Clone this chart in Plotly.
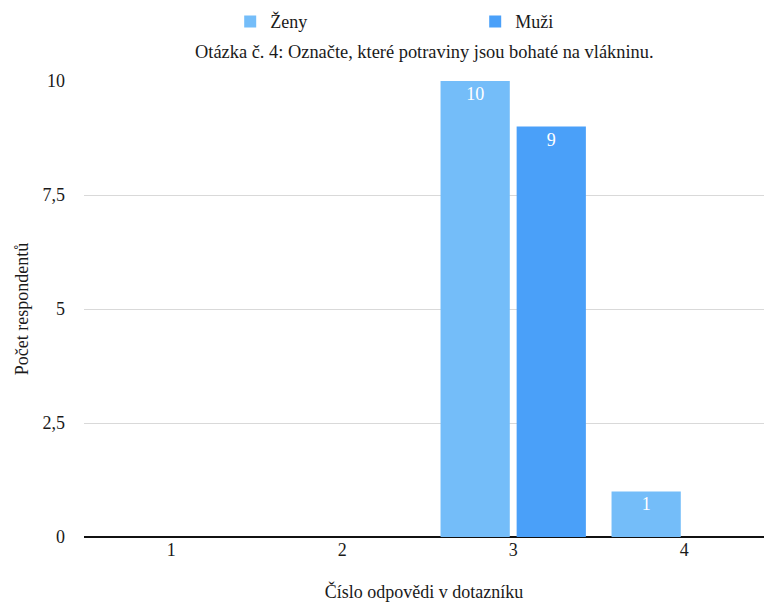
import plotly.graph_objects as go

categories = ["1", "2", "3", "4"]
zeny = [0, 0, 10, 1]
muzi = [0, 0, 9, 0]
y_tick_vals = [0, 2.5, 5, 7.5, 10]
y_tick_text = ["0", "2,5", "5", "7,5", "10"]

FONT = "Liberation Serif, Times New Roman, serif"
LIGHT = "#74bdf9"
DARK = "#4aa0f9"
TXT = "#1a1a1a"


def heights(vals):
    # zero counts are left undrawn so no sliver shows on the axis
    return [v if v else None for v in vals]


def labels(vals):
    return [str(v) if v else "" for v in vals]


fig = go.Figure()
for name, vals, col in (("Ženy", zeny, LIGHT), ("Muži", muzi, DARK)):
    fig.add_trace(go.Bar(
        name=name, x=categories, y=heights(vals), marker_color=col,
        marker_line_width=0,
        text=labels(vals), textposition="inside", insidetextanchor="end",
        textfont=dict(color="white", size=18, family=FONT),
        textangle=0, cliponaxis=False,
    ))

fig.update_layout(
    width=764, height=605,
    margin=dict(l=84, r=0, t=81, b=68),
    paper_bgcolor="white", plot_bgcolor="white",
    font=dict(family=FONT, size=18, color=TXT),
    barmode="group", bargap=0.11, bargroupgap=0.09,
    showlegend=True,
    legend=dict(
        orientation="h", x=0.215, xanchor="left", y=1.13, yanchor="middle",
        entrywidth=200, font=dict(size=18, family=FONT, color=TXT),
        traceorder="normal",
    ),
    annotations=[dict(
        text="Otázka č. 4: Označte, které potraviny jsou bohaté na vlákninu.",
        xref="paper", yref="paper", x=0.5, y=1.0636, xanchor="center", yanchor="middle",
        showarrow=False, font=dict(size=18.4, family=FONT, color=TXT),
    )],
    uniformtext=dict(mode=False),
)

fig.update_xaxes(
    title=dict(text="Číslo odpovědi v dotazníku", font=dict(size=18), standoff=26),
    range=[-0.51, 3.4666],
    showgrid=False, showline=False, ticks="", tickfont=dict(size=18),
)
fig.update_yaxes(
    title=dict(text="Počet respondentů", font=dict(size=18), standoff=9),
    range=[0, 10], tickvals=y_tick_vals, ticktext=y_tick_text,
    showgrid=True, gridcolor="#d9d9d9", gridwidth=1,
    zeroline=True, zerolinecolor="#111", zerolinewidth=2,
    ticks="", ticklabelstandoff=18, tickfont=dict(size=18),
)

fig.write_html("out.html")
